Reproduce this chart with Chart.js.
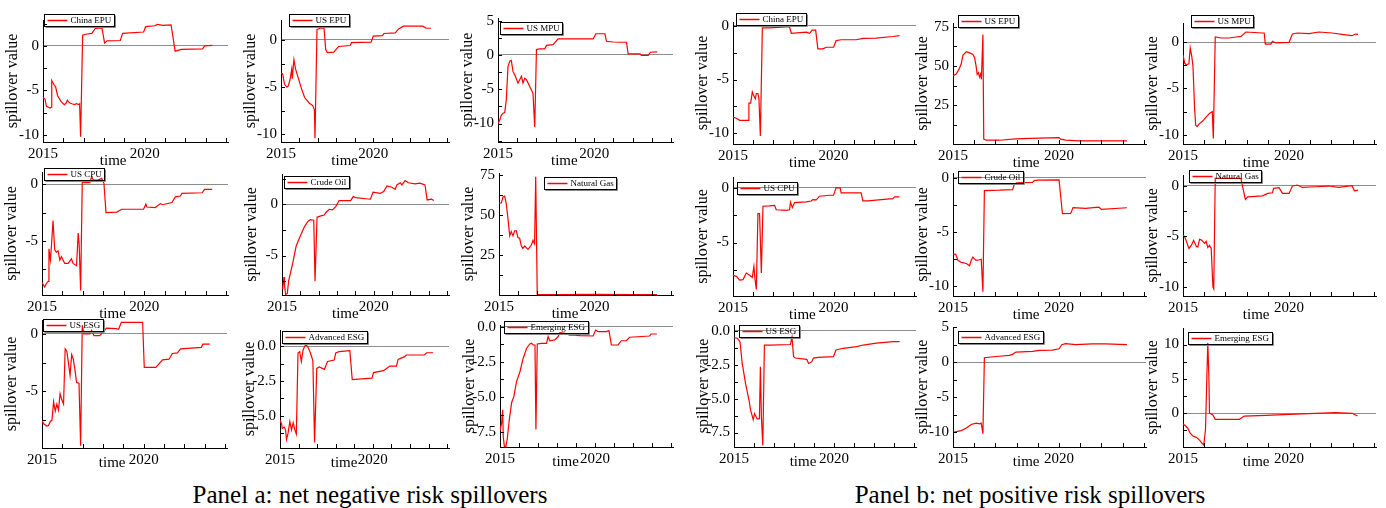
<!DOCTYPE html>
<html>
<head>
<meta charset="utf-8">
<script src="https://cdn.jsdelivr.net/npm/chart.js@4.4.0/dist/chart.umd.min.js"></script>
<style>
  body { margin: 0; background: #fff; }
  #page { position: relative; width: 1386px; height: 508px; overflow: hidden; font-family: "Liberation Serif", "Times New Roman", serif; }
  canvas { position: absolute; }
  .caption { position: absolute; top: 482px; font-size: 25px; line-height: 1; white-space: nowrap; transform: translateX(-50%); color: #000; }
</style>
</head>
<body>
<div id="page">
  <div class="caption" style="left:370px">Panel a: net negative risk spillovers</div>
  <div class="caption" style="left:1030px">Panel b: net positive risk spillovers</div>
</div>
<script>
// x axis: years
const yearTicks = [2015, 2016, 2017, 2018, 2019, 2020, 2021, 2022, 2023, 2024];
const labelYears = [2015, 2020];
const xMin = 2015, xMax = 2024.1;

// Panel a: net negative risk spillovers  [year, spillover value]
const aChinaEPU = [[2015.0,-5.8],[2015.1,-6.0],[2015.17,-6.8],[2015.35,-7.0],[2015.4,-6.9],[2015.43,-3.9],[2015.55,-4.4],[2015.62,-4.6],[2015.72,-5.6],[2015.9,-6.3],[2016.05,-6.6],[2016.15,-6.4],[2016.2,-6.1],[2016.3,-6.4],[2016.42,-6.5],[2016.55,-6.6],[2016.65,-6.5],[2016.75,-6.6],[2016.8,-6.5],[2016.85,-10.2],[2016.95,1.2],[2017.1,1.3],[2017.4,1.4],[2017.57,1.95],[2017.9,2.0],[2018.03,0.3],[2018.15,0.55],[2018.8,0.6],[2018.92,1.4],[2019.95,1.55],[2020.05,2.15],[2020.5,2.25],[2020.62,2.4],[2020.9,2.3],[2021.3,2.35],[2021.5,-0.6],[2021.8,-0.4],[2022.85,-0.35],[2022.95,0.0],[2023.33,0.05]];
const aUSEPU = [[2015.0,-3.5],[2015.09,-3.6],[2015.19,-4.7],[2015.32,-5.0],[2015.4,-4.85],[2015.49,-4.2],[2015.58,-3.1],[2015.61,-4.1],[2015.7,-2.1],[2015.79,-3.1],[2015.93,-4.0],[2016.1,-5.1],[2016.28,-6.1],[2016.54,-6.7],[2016.72,-6.95],[2016.81,-7.4],[2016.84,-10.4],[2016.95,1.1],[2017.16,1.25],[2017.33,1.25],[2017.42,-1.0],[2017.51,-1.35],[2017.86,-1.3],[2018.12,-0.7],[2018.74,-0.6],[2018.82,-0.3],[2019.88,-0.25],[2020.0,0.4],[2020.49,0.45],[2020.58,0.67],[2021.19,0.74],[2021.37,1.16],[2021.63,1.45],[2022.68,1.45],[2022.86,1.23],[2023.12,1.23]];
const aUSMPU = [[2015.0,-10.0],[2015.09,-9.5],[2015.17,-8.8],[2015.26,-8.5],[2015.35,-8.4],[2015.43,-6.6],[2015.52,-1.7],[2015.61,-0.9],[2015.69,-0.8],[2015.78,-2.4],[2015.87,-2.9],[2016.04,-4.1],[2016.13,-3.6],[2016.22,-3.1],[2016.3,-4.1],[2016.39,-3.4],[2016.48,-3.6],[2016.65,-4.6],[2016.74,-5.1],[2016.82,-5.6],[2016.91,-10.5],[2017.0,0.8],[2017.17,0.9],[2017.43,0.9],[2017.52,1.4],[2017.86,1.5],[2018.13,2.35],[2019.95,2.35],[2020.09,3.1],[2020.56,3.1],[2020.64,2.0],[2020.99,1.9],[2021.34,1.86],[2021.68,1.86],[2021.77,0.15],[2022.38,0.15],[2022.47,-0.05],[2022.81,-0.05],[2022.93,0.4],[2023.28,0.45]];
const aUSCPU = [[2015.0,-8.7],[2015.13,-9.1],[2015.21,-8.8],[2015.3,-8.6],[2015.34,-5.7],[2015.41,-6.7],[2015.46,-5.5],[2015.54,-3.2],[2015.62,-5.8],[2015.7,-6.0],[2015.79,-5.9],[2015.87,-6.7],[2015.95,-6.4],[2016.03,-6.7],[2016.11,-7.0],[2016.28,-7.0],[2016.44,-6.6],[2016.52,-7.0],[2016.69,-7.2],[2016.77,-4.3],[2016.82,-5.4],[2016.89,-9.4],[2016.97,0.24],[2017.1,0.15],[2017.34,0.15],[2017.43,0.68],[2017.51,0.38],[2017.75,0.38],[2017.92,0.53],[2018.03,0.1],[2018.13,-2.5],[2018.66,-2.45],[2018.9,-2.2],[2019.97,-2.2],[2020.08,-1.75],[2020.13,-2.0],[2020.54,-2.05],[2020.79,-1.7],[2020.9,-1.8],[2021.36,-1.6],[2021.52,-1.1],[2021.77,-1.03],[2021.85,-0.8],[2022.84,-0.74],[2022.95,-0.44],[2023.33,-0.44]];
const aCrudeOil = [[2015.0,-8.2],[2015.05,-8.0],[2015.11,-7.1],[2015.14,-8.0],[2015.2,-8.8],[2015.29,-8.7],[2015.36,-7.5],[2015.5,-6.4],[2015.59,-5.7],[2015.77,-4.1],[2015.95,-3.3],[2016.22,-2.2],[2016.4,-1.7],[2016.55,-1.5],[2016.73,-1.55],[2016.8,-7.5],[2016.91,-1.27],[2017.12,-1.14],[2017.3,-1.05],[2017.39,-0.8],[2017.57,-0.49],[2017.75,-0.55],[2017.93,-0.23],[2018.11,0.36],[2018.74,0.36],[2018.88,0.75],[2019.01,0.65],[2019.82,0.49],[2019.96,1.17],[2020.36,1.07],[2020.54,1.23],[2020.72,1.79],[2020.99,1.66],[2021.17,1.46],[2021.26,1.88],[2021.44,2.1],[2021.53,1.88],[2021.71,2.3],[2021.89,2.1],[2022.25,1.98],[2022.52,2.05],[2022.79,1.88],[2022.91,0.42],[2023.15,0.49],[2023.27,0.36]];
const aNaturalGas = [[2015.0,57.4],[2015.12,57.4],[2015.21,61.1],[2015.3,61.6],[2015.38,56.9],[2015.47,47.5],[2015.56,37.0],[2015.64,39.7],[2015.73,37.0],[2015.82,40.1],[2015.91,40.1],[2015.99,35.9],[2016.08,35.5],[2016.17,30.7],[2016.25,29.2],[2016.34,30.7],[2016.52,28.6],[2016.69,31.3],[2016.78,34.2],[2016.86,32.1],[2016.92,73.7],[2017.0,0.6],[2018.0,0.6],[2020.0,0.7],[2022.0,0.6],[2023.26,0.6]];
const aUSESG = [[2015.0,-7.5],[2015.08,-7.8],[2015.24,-8.0],[2015.32,-7.95],[2015.41,-7.6],[2015.49,-7.5],[2015.57,-5.9],[2015.65,-6.7],[2015.73,-6.1],[2015.81,-6.6],[2015.89,-5.2],[2015.97,-5.7],[2016.06,-6.1],[2016.14,-1.3],[2016.22,-1.5],[2016.3,-2.5],[2016.38,-3.6],[2016.46,-1.8],[2016.54,-2.2],[2016.62,-3.1],[2016.7,-4.2],[2016.82,-4.3],[2016.9,-9.7],[2016.98,0.75],[2017.06,0.0],[2017.35,0.0],[2017.44,0.3],[2017.55,-0.15],[2017.84,-0.15],[2018.0,0.15],[2018.17,0.5],[2018.65,0.45],[2018.77,0.4],[2018.9,1.0],[2019.95,1.0],[2020.03,-2.9],[2020.6,-2.9],[2020.93,-2.25],[2021.25,-2.2],[2021.41,-1.7],[2021.66,-1.65],[2021.82,-1.3],[2022.84,-1.17],[2022.91,-0.9],[2023.25,-0.9]];
const aAdvancedESG = [[2015.0,-5.3],[2015.09,-5.6],[2015.12,-5.9],[2015.23,-5.8],[2015.3,-6.0],[2015.35,-6.7],[2015.44,-6.2],[2015.53,-5.4],[2015.62,-6.0],[2015.71,-5.5],[2015.8,-6.0],[2015.88,-6.3],[2015.97,-0.5],[2016.06,-0.4],[2016.15,-1.1],[2016.24,-0.3],[2016.33,0.0],[2016.41,0.07],[2016.5,-0.05],[2016.64,-0.5],[2016.77,-1.05],[2016.86,-6.9],[2016.98,-1.6],[2017.12,-1.5],[2017.39,-1.67],[2017.56,-1.1],[2017.92,-1.0],[2018.0,-0.5],[2018.18,-0.4],[2018.76,-0.33],[2018.89,-2.4],[2019.95,-2.3],[2020.04,-1.9],[2020.57,-1.76],[2020.74,-1.6],[2020.92,-1.43],[2021.27,-1.43],[2021.36,-0.95],[2021.71,-0.76],[2021.8,-0.64],[2022.77,-0.64],[2022.9,-0.48],[2023.25,-0.48]];
const aEmergingESG = [[2015.0,-7.4],[2015.09,-6.8],[2015.14,-5.9],[2015.17,-7.8],[2015.23,-8.5],[2015.31,-8.5],[2015.38,-8.0],[2015.49,-6.6],[2015.61,-5.4],[2015.73,-4.95],[2015.87,-3.9],[2016.05,-3.2],[2016.22,-2.24],[2016.4,-1.53],[2016.57,-1.23],[2016.66,-1.18],[2016.75,-1.3],[2016.84,-1.3],[2016.89,-7.3],[2016.96,-1.23],[2017.19,-1.18],[2017.45,-1.18],[2017.53,-0.7],[2017.62,-1.0],[2017.88,-0.94],[2018.06,-0.7],[2018.15,-0.42],[2018.41,-0.47],[2018.67,-0.6],[2018.93,-0.6],[2019.2,-0.64],[2019.9,-0.66],[2020.03,-0.24],[2020.16,-0.35],[2020.59,-0.35],[2020.73,-0.28],[2020.86,-1.3],[2021.21,-1.3],[2021.38,-1.0],[2021.64,-1.0],[2021.82,-0.75],[2022.87,-0.66],[2022.95,-0.52],[2023.25,-0.52]];

// Panel b: net positive risk spillovers
const bChinaEPU = [[2015.0,-8.5],[2015.17,-8.6],[2015.33,-8.8],[2015.58,-8.8],[2015.75,-8.8],[2015.79,-7.2],[2015.88,-7.2],[2015.96,-6.15],[2016.03,-6.5],[2016.11,-6.8],[2016.16,-6.3],[2016.24,-6.3],[2016.29,-6.8],[2016.36,-10.25],[2016.46,-0.2],[2016.82,-0.2],[2017.65,-0.1],[2017.81,-0.1],[2017.9,-0.7],[2018.64,-0.6],[2018.81,-0.7],[2018.94,-0.4],[2019.11,-0.4],[2019.22,-2.15],[2019.47,-2.15],[2019.64,-2.0],[2020.0,-2.0],[2020.13,-1.38],[2020.38,-1.3],[2021.13,-1.3],[2021.46,-1.17],[2022.12,-1.15],[2022.95,-1.0],[2023.28,-0.92]];
const bUSEPU = [[2015.0,43.7],[2015.16,45.1],[2015.28,47.9],[2015.39,51.5],[2015.47,57.0],[2015.63,59.1],[2015.78,58.4],[2015.94,57.4],[2016.02,55.3],[2016.09,50.0],[2016.14,44.7],[2016.2,45.8],[2016.25,43.0],[2016.3,45.0],[2016.34,41.6],[2016.41,70.0],[2016.45,3.6],[2016.56,2.9],[2017.19,2.9],[2017.97,3.8],[2019.06,4.2],[2020.0,4.6],[2020.08,3.6],[2020.31,3.0],[2020.94,2.5],[2023.2,2.5]];
const bUSMPU = [[2015.0,-1.4],[2015.08,-2.3],[2015.16,-2.45],[2015.28,-2.35],[2015.34,-0.65],[2015.41,-1.5],[2015.47,-2.6],[2015.55,-7.3],[2015.6,-9.0],[2015.67,-9.1],[2015.78,-8.8],[2015.94,-8.5],[2016.09,-8.1],[2016.25,-7.7],[2016.38,-7.5],[2016.43,-10.4],[2016.52,0.54],[2016.8,0.43],[2017.19,0.43],[2017.5,0.54],[2017.73,0.6],[2017.97,1.08],[2018.75,0.97],[2018.83,0.97],[2018.88,-0.22],[2019.14,-0.22],[2019.22,0.07],[2019.38,-0.1],[2020.0,-0.04],[2020.16,0.86],[2020.39,0.97],[2020.94,0.9],[2021.41,1.08],[2022.03,0.97],[2022.58,0.79],[2022.97,0.68],[2023.13,0.86],[2023.25,0.83]];
const bUSCPU = [[2015.0,-8.0],[2015.17,-8.1],[2015.33,-8.45],[2015.5,-8.4],[2015.66,-7.8],[2015.83,-8.0],[2015.96,-8.2],[2016.04,-7.2],[2016.09,-8.3],[2016.16,-9.3],[2016.24,-2.35],[2016.32,-2.35],[2016.41,-7.8],[2016.49,-1.68],[2016.82,-1.65],[2017.07,-1.6],[2017.15,-2.0],[2017.65,-2.05],[2017.81,-2.0],[2017.86,-1.3],[2017.95,-1.8],[2018.06,-1.34],[2018.64,-1.28],[2018.89,-1.2],[2018.97,-1.07],[2019.14,-1.1],[2019.3,-0.76],[2019.8,-0.67],[2020.0,-0.67],[2020.13,0.03],[2020.33,0.0],[2020.38,-0.46],[2020.96,-0.46],[2021.37,-0.46],[2021.46,-1.19],[2021.71,-1.19],[2022.78,-1.0],[2022.95,-0.98],[2023.03,-0.82],[2023.28,-0.82]];
const bCrudeOil = [[2015.0,-7.0],[2015.13,-7.05],[2015.23,-7.6],[2015.39,-7.8],[2015.63,-7.9],[2015.78,-8.1],[2015.86,-7.6],[2015.94,-7.3],[2016.02,-7.5],[2016.09,-7.6],[2016.25,-7.55],[2016.33,-7.5],[2016.41,-10.5],[2016.48,-1.16],[2017.19,-1.13],[2017.81,-1.07],[2017.89,-0.6],[2018.0,-0.46],[2018.75,-0.4],[2018.83,-0.24],[2019.0,-0.2],[2020.0,-0.18],[2020.16,-3.3],[2020.55,-3.27],[2020.66,-2.74],[2021.25,-2.8],[2021.88,-2.7],[2022.0,-2.9],[2023.2,-2.75]];
const bNaturalGas = [[2015.0,-4.9],[2015.08,-5.05],[2015.16,-5.5],[2015.28,-6.2],[2015.39,-5.9],[2015.5,-5.4],[2015.63,-6.0],[2015.7,-6.05],[2015.78,-5.3],[2015.86,-5.35],[2016.02,-5.7],[2016.09,-5.5],[2016.17,-6.1],[2016.25,-5.9],[2016.33,-6.2],[2016.41,-10.0],[2016.45,-10.2],[2016.52,0.73],[2017.03,0.73],[2017.73,0.73],[2017.81,-0.1],[2017.94,-1.35],[2018.05,-1.1],[2018.75,-1.0],[2019.0,-0.76],[2019.22,-0.7],[2019.27,-0.26],[2019.53,-0.2],[2019.69,-0.76],[2020.0,-0.76],[2020.16,-0.03],[2020.39,0.07],[2020.63,-0.17],[2021.25,-0.1],[2021.88,-0.03],[2022.34,-0.17],[2022.97,0.0],[2023.08,-0.5],[2023.25,-0.43]];
const bUSESG = [[2015.0,-0.5],[2015.17,-0.54],[2015.3,-0.79],[2015.41,-2.4],[2015.58,-3.9],[2015.75,-5.1],[2015.83,-5.85],[2015.96,-6.55],[2016.03,-6.1],[2016.11,-6.35],[2016.16,-6.5],[2016.27,-6.5],[2016.32,-2.64],[2016.37,-6.35],[2016.44,-8.45],[2016.52,-1.04],[2016.82,-1.04],[2017.82,-1.0],[2017.9,-0.47],[2017.98,-1.9],[2018.06,-2.0],[2018.64,-2.1],[2018.73,-2.4],[2018.89,-2.27],[2018.97,-2.0],[2019.22,-1.95],[2019.97,-1.9],[2020.1,-1.4],[2020.46,-1.28],[2021.13,-1.16],[2021.46,-1.04],[2022.12,-0.9],[2022.95,-0.79],[2023.28,-0.79]];
const bAdvancedESG = [[2015.0,-10.0],[2015.16,-9.9],[2015.39,-9.76],[2015.63,-9.4],[2015.86,-8.9],[2016.09,-8.7],[2016.25,-8.8],[2016.33,-8.7],[2016.41,-10.2],[2016.48,0.62],[2017.03,0.8],[2017.66,0.95],[2017.81,1.1],[2017.97,1.43],[2018.75,1.52],[2019.06,1.67],[2019.69,1.7],[2020.0,1.9],[2020.13,2.48],[2020.31,2.62],[2020.78,2.48],[2021.56,2.6],[2022.19,2.6],[2023.2,2.48]];
const bEmergingESG = [[2015.0,-1.56],[2015.13,-1.85],[2015.23,-2.2],[2015.34,-2.9],[2015.47,-3.3],[2015.63,-3.5],[2015.78,-3.9],[2015.91,-4.4],[2015.98,-4.6],[2016.06,-2.4],[2016.13,5.85],[2016.17,10.2],[2016.22,5.4],[2016.25,0.0],[2016.33,-0.1],[2016.41,-0.24],[2016.52,-0.88],[2017.03,-0.88],[2017.66,-0.88],[2017.89,-0.4],[2018.91,-0.3],[2020.0,-0.15],[2021.25,0.0],[2022.19,0.1],[2022.97,0.0],[2023.23,-0.4]];

// one small chart each: legend text, series, y range, labelled tick step, decimals
const panels = [
  { label: 'China EPU', data: aChinaEPU, yMin: -10.8, yMax: 2.9, step: 5, dec: 0 },
  { label: 'US EPU', data: aUSEPU, yMin: -10.8, yMax: 2.1, step: 5, dec: 0 },
  { label: 'US MPU', data: aUSMPU, yMin: -12.7, yMax: 5.4, step: 5, dec: 0 },
  { label: 'US CPU', data: aUSCPU, yMin: -9.8, yMax: 1.1, step: 5, dec: 0 },
  { label: 'Crude Oil', data: aCrudeOil, yMin: -8.85, yMax: 2.95, step: 5, dec: 0 },
  { label: 'Natural Gas', data: aNaturalGas, yMin: 0.3, yMax: 76, step: 25, dec: 0 },
  { label: 'US ESG', data: aUSESG, yMin: -9.9, yMax: 1.2, step: 5, dec: 0 },
  { label: 'Advanced ESG', data: aAdvancedESG, yMin: -7.3, yMax: 1.15, step: 2.5, dec: 1 },
  { label: 'Emerging ESG', data: aEmergingESG, yMin: -8.55, yMax: 0.12, step: 2.5, dec: 1 },
  { label: 'China EPU', data: bChinaEPU, yMin: -11.0, yMax: 0.35, step: 5, dec: 0 },
  { label: 'US EPU', data: bUSEPU, yMin: 0.5, yMax: 77.4, step: 25, dec: 0 },
  { label: 'US MPU', data: bUSMPU, yMin: -11.0, yMax: 2.05, step: 5, dec: 0 },
  { label: 'US CPU', data: bUSCPU, yMin: -9.9, yMax: 1.0, step: 5, dec: 0 },
  { label: 'Crude Oil', data: bCrudeOil, yMin: -10.9, yMax: 0.46, step: 5, dec: 0 },
  { label: 'Natural Gas', data: bNaturalGas, yMin: -10.9, yMax: 1.06, step: 5, dec: 0 },
  { label: 'US ESG', data: bUSESG, yMin: -8.57, yMax: 0.44, step: 2.5, dec: 1 },
  { label: 'Advanced ESG', data: bAdvancedESG, yMin: -12.1, yMax: 5.0, step: 5, dec: 0 },
  { label: 'Emerging ESG', data: bEmergingESG, yMin: -4.9, yMax: 12.4, step: 5, dec: 0 }
];

// plot box on the page (left, top, right, bottom) + legend offset from the plot corner
const frames = [
  [43, 20, 228, 142, 1, -6], [281, 20, 449, 142, 8, -6], [498, 18, 673, 142, 2, 4],
  [42, 172, 228, 295, 2, -4], [282, 174, 449, 295, 2, 2], [499, 173, 673, 295, 45, 4],
  [42, 320, 227, 448, 1, -1], [280, 330, 449, 448, 2, 1], [500, 325, 673, 447, 4, -4],
  [733, 22, 916, 144, 3, -9], [953, 23, 1146, 144, 5, -8], [1183, 23, 1376, 144, 8, -8],
  [733, 177, 916, 296, 4, 5], [953, 173, 1146, 296, 5, -2], [1183, 175, 1376, 296, 6, -5],
  [734, 325, 916, 447, 5, 0], [953, 327, 1146, 447, 5, 4], [1183, 328, 1376, 447, 5, 4]
];

const AXIS_W = 40, AXIS_H = 28, PAD_TOP = 14, PAD_RIGHT = 6;
const SERIF = '"Liberation Serif", serif';

Chart.defaults.font.family = SERIF;
Chart.defaults.color = '#000';

// tick marks drawn inward, like the original figure
const inwardTicks = {
  id: 'inwardTicks',
  afterDraw(chart) {
    const { ctx, chartArea: ca, scales: { x, y } } = chart;
    ctx.save();
    ctx.strokeStyle = '#000';
    ctx.lineWidth = 1;
    ctx.beginPath();
    x.ticks.forEach(t => {
      const px = Math.round(x.getPixelForValue(t.value)) + 0.5;
      ctx.moveTo(px, ca.bottom);
      ctx.lineTo(px, ca.bottom - 4);
    });
    y.ticks.forEach(t => {
      const py = Math.round(y.getPixelForValue(t.value)) + 0.5;
      ctx.moveTo(ca.left, py);
      ctx.lineTo(ca.left + 4, py);
    });
    ctx.stroke();
    ctx.restore();
  }
};

// small framed legend in the top-left corner
const boxLegend = {
  id: 'boxLegend',
  afterDraw(chart, args, opts) {
    const { ctx, chartArea: ca } = chart;
    const ds = chart.data.datasets[0];
    ctx.save();
    ctx.font = '9px ' + SERIF;
    const tw = ctx.measureText(ds.label).width;
    const x = Math.round(ca.left + opts.dx) + 0.5;
    const y = Math.round(ca.top + opts.dy) + 0.5;
    const w = Math.round(tw + 29), h = 12;
    ctx.lineWidth = 1;
    ctx.strokeStyle = '#000';
    ctx.strokeRect(x, y, w, h);
    ctx.strokeStyle = '#888';
    ctx.beginPath();
    ctx.moveTo(x + 1, y + h + 1);
    ctx.lineTo(x + w + 1, y + h + 1);
    ctx.lineTo(x + w + 1, y + 1);
    ctx.stroke();
    ctx.strokeStyle = ds.borderColor;
    ctx.lineWidth = 1.5;
    ctx.beginPath();
    ctx.moveTo(x + 3, y + h / 2);
    ctx.lineTo(x + 23, y + h / 2);
    ctx.stroke();
    ctx.fillStyle = '#000';
    ctx.textBaseline = 'middle';
    ctx.fillText(ds.label, x + 26, y + h / 2 + 0.5);
    ctx.restore();
  }
};

// x axis title sits just left of the 2020 label
const timeLabel = {
  id: 'timeLabel',
  afterDraw(chart, args, opts) {
    const { ctx, chartArea: ca, scales: { x } } = chart;
    ctx.save();
    ctx.font = '15px ' + SERIF;
    ctx.fillStyle = '#000';
    ctx.textAlign = 'center';
    ctx.textBaseline = 'alphabetic';
    ctx.fillText(opts.text, x.getPixelForValue(2018.45), ca.bottom + opts.dy);
    ctx.restore();
  }
};

const page = document.getElementById('page');

let drawCharts = () => {
  panels.forEach((p, i) => {
    const [L, T, R, B, ldx, ldy] = frames[i];
    const row = Math.floor((i % 9) / 3);
    const w = R - L + AXIS_W + PAD_RIGHT;
    const h = B - T + PAD_TOP + AXIS_H;

    const cv = document.createElement('canvas');
    cv.width = w;
    cv.height = h;
    cv.style.width = w + 'px';
    cv.style.height = h + 'px';
    cv.style.left = (L - AXIS_W) + 'px';
    cv.style.top = (T - PAD_TOP) + 'px';
    page.appendChild(cv);

    const minor = p.step / 2;

    new Chart(cv, {
      type: 'line',
      data: {
        datasets: [{
          label: p.label,
          data: p.data.map(([x, y]) => ({ x, y })),
          borderColor: '#ff0000',
          borderWidth: 1.2,
          pointRadius: 0,
          tension: 0,
          fill: false
        }]
      },
      options: {
        responsive: false,
        animation: false,
        devicePixelRatio: 1,
        layout: { padding: { top: PAD_TOP, right: PAD_RIGHT, left: 0, bottom: 0 } },
        plugins: {
          legend: { display: false },
          tooltip: { enabled: false },
          boxLegend: { dx: ldx, dy: ldy },
          timeLabel: { text: 'time', dy: row === 2 ? 19 : 23 }
        },
        scales: {
          x: {
            type: 'linear',
            min: xMin,
            max: xMax,
            afterBuildTicks: s => { s.ticks = yearTicks.map(v => ({ value: v })); },
            afterFit: s => { s.height = AXIS_H; },
            ticks: {
              autoSkip: false,
              maxRotation: 0,
              padding: 3,
              font: { size: 15 },
              callback: v => labelYears.includes(v) ? String(v) : ''
            },
            grid: { display: false, drawTicks: false },
            border: { display: true, color: '#000', width: 1 }
          },
          y: {
            min: p.yMin,
            max: p.yMax,
            afterBuildTicks: s => {
              const t = [];
              for (let v = Math.ceil(p.yMin / minor) * minor; v <= p.yMax + 1e-9; v += minor) {
                t.push({ value: Math.round(v * 100) / 100 });
              }
              s.ticks = t;
            },
            afterFit: s => { s.width = AXIS_W; },
            ticks: {
              autoSkip: false,
              padding: 4,
              font: { size: 15 },
              callback: v => Math.abs(v / p.step - Math.round(v / p.step)) < 1e-6 ? v.toFixed(p.dec) : ''
            },
            grid: {
              drawTicks: false,
              lineWidth: 1,
              color: c => (c.tick && c.tick.value === 0) ? '#8c8c8c' : 'rgba(0,0,0,0)'
            },
            border: { display: true, color: '#000', width: 1 },
            title: {
              display: true,
              text: 'spillover value',
              font: { size: 16 },
              padding: { top: 0, bottom: 0 }
            }
          }
        }
      },
      plugins: [inwardTicks, boxLegend, timeLabel]
    });
  });
};

// make sure the serif face is ready before the canvases draw text
Promise.all([
  document.fonts.load('15px "Liberation Serif"'),
  document.fonts.load('9px "Liberation Serif"')
]).then(drawCharts, drawCharts);
</script>
</body>
</html>
